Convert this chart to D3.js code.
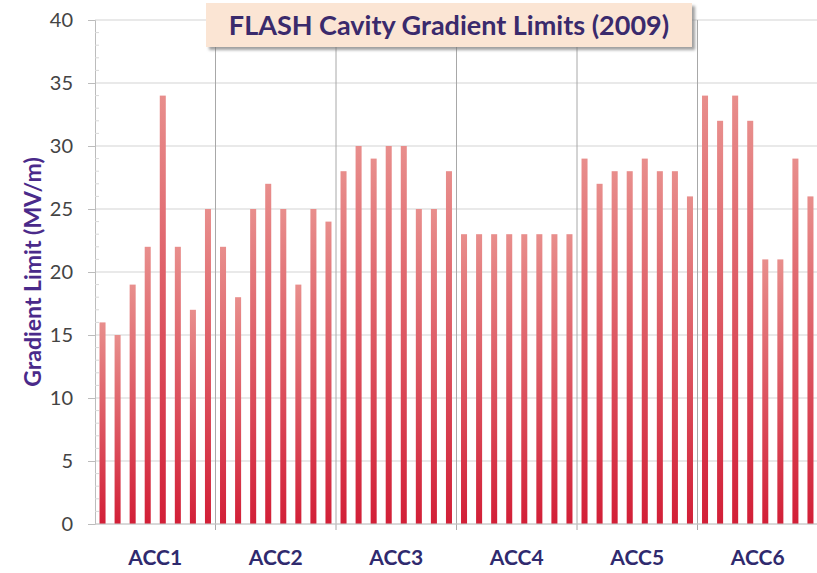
<!DOCTYPE html>
<html><head><meta charset="utf-8">
<script src="https://cdn.jsdelivr.net/npm/d3@7"></script>
<style>body{margin:0;background:#fff}svg{display:block}</style>
</head><body>
<svg id="c" width="817" height="573"></svg>
<script>
const modules = ["ACC1","ACC2","ACC3","ACC4","ACC5","ACC6"];
const acc1 = [16,15,19,22,34,22,17,25];
const acc2 = [22,18,25,27,25,19,25,24];
const acc3 = [28,30,29,30,30,25,25,28];
const acc4 = [23,23,23,23,23,23,23,23];
const acc5 = [29,27,28,28,29,28,28,26];
const acc6 = [34,32,34,32,21,21,29,26];
const yTicks = [0,5,10,15,20,25,30,35,40];
const title = "FLASH Cavity Gradient Limits (2009)";
const yLabel = "Gradient Limit (MV/m)";

const groups = [acc1,acc2,acc3,acc4,acc5,acc6];
const data = [];
groups.forEach((g,i)=>g.forEach((v,j)=>data.push({m:modules[i],c:j,v})));

const FONT = "Lato, 'Open Sans', sans-serif";
const svg = d3.select("#c");
const L = 95, R = 818, T = 20, B = 524;
const y = d3.scaleLinear().domain([0,40]).range([B,T]);
const xm = d3.scaleBand().domain(modules).range([L,R]).padding(0);
const xc = d3.scaleBand().domain(d3.range(8)).range([0,xm.bandwidth()]).paddingInner(0.6).paddingOuter(0.3);

const defs = svg.append("defs");
const gr = defs.append("linearGradient").attr("id","bg").attr("x1",0).attr("y1",0).attr("x2",0).attr("y2",1);
gr.append("stop").attr("offset","0%").attr("stop-color","#e88e8c");
gr.append("stop").attr("offset","100%").attr("stop-color","#d21f37");
const f = defs.append("filter").attr("id","sh").attr("x","-5%").attr("y","-20%").attr("width","115%").attr("height","160%");
f.append("feDropShadow").attr("dx",3).attr("dy",3).attr("stdDeviation",1.5).attr("flood-color","#777").attr("flood-opacity",0.7);

// gridlines
svg.append("g").selectAll("line").data(yTicks).join("line")
  .attr("x1",L).attr("x2",R).attr("y1",d=>y(d)).attr("y2",d=>y(d))
  .attr("stroke","#d4d4d4").attr("stroke-width",1.2);

// group separators
svg.append("g").selectAll("line").data(modules.slice(1)).join("line")
  .attr("x1",d=>xm(d)).attr("x2",d=>xm(d)).attr("y1",T).attr("y2",B+6)
  .attr("stroke","#a8a8a8").attr("stroke-width",1);

// bars
svg.append("g").selectAll("rect").data(data).join("rect")
  .attr("x",d=>xm(d.m)+xc(d.c)).attr("width",xc.bandwidth())
  .attr("y",d=>y(d.v)).attr("height",d=>B-y(d.v))
  .attr("fill","url(#bg)");

// y axis
const ya = d3.axisLeft(y).tickValues(yTicks).tickSize(7).tickPadding(15);
const yg = svg.append("g").attr("transform",`translate(${L},0)`).call(ya);
yg.select(".domain").attr("stroke","#bcbcbc");
yg.selectAll(".tick line").attr("stroke","#bcbcbc");
yg.selectAll(".tick text").attr("font-family",FONT).attr("font-size",20).attr("fill","#444");
// minor ticks
svg.append("g").selectAll("line").data(d3.range(0,41).filter(v=>v%5)).join("line")
  .attr("x1",L).attr("x2",L+4).attr("y1",d=>y(d)).attr("y2",d=>y(d))
  .attr("stroke","#d8d8d8");

// x baseline
svg.append("line").attr("x1",L).attr("x2",R).attr("y1",B).attr("y2",B).attr("stroke","#c8c8c8");

// x labels
svg.append("g").selectAll("text").data(modules).join("text")
  .attr("x",d=>xm(d)+xm.bandwidth()/2).attr("y",565)
  .attr("text-anchor","middle").attr("font-family",FONT)
  .attr("font-weight","bold").attr("font-size",21).attr("fill","#2f2a6e").text(d=>d);

// y label
svg.append("text").attr("transform","translate(41,272) rotate(-90)")
  .attr("text-anchor","middle").attr("font-family",FONT)
  .attr("font-weight","bold").attr("font-size",23).attr("fill","#4a2a8a").text(yLabel);

// title box
svg.append("rect").attr("x",206).attr("y",3).attr("width",486).attr("height",44)
  .attr("fill","#fbe5d4").attr("filter","url(#sh)");
svg.append("text").attr("x",449).attr("y",35).attr("text-anchor","middle")
  .attr("font-family",FONT).attr("font-weight","bold")
  .attr("font-size",27).attr("fill","#3a2a6c").text(title);
</script>
</body></html>
